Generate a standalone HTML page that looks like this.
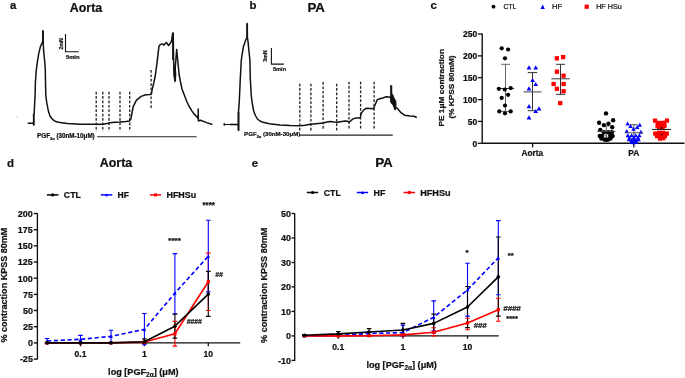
<!DOCTYPE html>
<html><head><meta charset="utf-8"><title>Figure</title>
<style>
html,body{margin:0;padding:0;background:#fff;width:685px;height:378px;overflow:hidden;}
svg{display:block;will-change:transform;}
text{font-family:"Liberation Sans",sans-serif;fill:#111;stroke:#111;stroke-width:0.22px;}
</style></head>
<body>
<svg width="685" height="378" viewBox="0 0 685 378">
<rect width="685" height="378" fill="#fff"/>
<text x="10.0" y="9.0" font-size="11.4" font-weight="bold">a</text>
<text x="69.89" y="11.90" font-size="12.3" font-weight="bold" textLength="32.33" lengthAdjust="spacingAndGlyphs">Aorta</text>
<path d="M65.5,34 V51.7 H78.7" fill="none" stroke="#111" stroke-width="1.1"/>
<text transform="translate(62.9,43.8) rotate(-90)" text-anchor="middle" font-size="5.2" font-weight="bold" fill="#222">2mN</text>
<text x="65.92" y="59.30" font-size="5.6" font-weight="bold" textLength="13.64" lengthAdjust="spacingAndGlyphs" fill="#222">5min</text>
<polyline points="27.7,123.2 33.7,123.2 33.7,125.0 33.7,114.0 34.2,113.5 34.6,104.3 35.1,95.0 35.4,82.0 36.3,70.0 37.5,61.0 38.7,53.6 40.5,46.4 42.7,41.7 42.9,30.7 43.2,41.7 43.5,48.8 44.1,56.0 44.7,61.0 45.3,70.0 45.5,82.0 45.8,95.0 46.7,102.4 48.3,110.7 49.9,115.8 52.0,118.8 54.0,120.6 56.5,121.8 60.0,122.6 67.6,123.4 80.0,124.2 95.0,124.3 103.0,124.2 107.0,123.6 111.7,122.6 120.0,122.1 126.0,121.5 129.5,121.0 130.8,119.4 131.8,114.0 133.2,106.7 136.3,100.4 141.1,96.4 145.9,94.8 150.6,94.5 151.4,94.0 152.2,89.3 153.8,82.9 155.4,75.0 157.0,62.9 159.0,46.2 160.2,44.6 162.4,43.9 164.0,45.1 166.3,42.6 168.7,45.5 170.3,43.1 171.4,41.5 172.7,33.1 173.2,33.1 173.6,60.0 174.0,75.0 175.0,81.5 175.6,75.0 175.2,68.0 175.7,62.0 175.4,66.0 176.0,58.0 176.7,49.4 177.3,56.0 178.3,66.0 179.2,75.0 180.5,82.0 182.0,89.0 184.5,95.6 186.8,101.5 189.3,106.7 191.7,110.6 194.0,113.9 197.2,117.1 198.2,119.0 198.2,109.1 198.4,121.0 200.4,120.2 206.7,122.6 212.3,124.5" fill="none" stroke="#111" stroke-width="1.5" stroke-linejoin="round"/>
<path d="M33.7,114 V125.2" stroke="#111" stroke-width="1.6"/>
<path d="M42.9,30.7 V41.7" stroke="#111" stroke-width="1.8"/>
<path d="M172.9,33.1 V60" stroke="#111" stroke-width="1.5"/>
<path d="M174.6,68 L175.3,81" stroke="#111" stroke-width="1.8"/>
<path d="M224.3,123.1 V125.7" stroke="#111" stroke-width="1.5"/><path d="M224.3,124.5 H238" stroke="#111" stroke-width="1.1"/>
<path d="M96.2,91.7 V131.5" stroke="#222" stroke-width="1.3" stroke-dasharray="2.7,1.7"/>
<path d="M102.8,91.7 V131.5" stroke="#222" stroke-width="1.3" stroke-dasharray="2.7,1.7"/>
<path d="M109,91.7 V131.5" stroke="#222" stroke-width="1.3" stroke-dasharray="2.7,1.7"/>
<path d="M120,91.7 V131.5" stroke="#222" stroke-width="1.3" stroke-dasharray="2.7,1.7"/>
<path d="M129.7,91.7 V131.5" stroke="#222" stroke-width="1.3" stroke-dasharray="2.7,1.7"/>
<path d="M151.1,70 V109.1" stroke="#222" stroke-width="1.3" stroke-dasharray="2.7,1.7"/>
<text x="37.1" y="138.2" font-size="6.28" font-weight="bold" fill="#222">PGF<tspan font-size="4" dy="1.3">2α</tspan><tspan dy="-1.3"> (30nM-10μM)</tspan></text>
<path d="M97.2,136.7 H196.6" stroke="#222" stroke-width="1.1"/>
<circle cx="17" cy="116.8" r="0.6" fill="#999"/>
<text x="249.6" y="9.3" font-size="11.4" font-weight="bold">b</text>
<text x="307.46" y="11.90" font-size="12.3" font-weight="bold" textLength="17.47" lengthAdjust="spacingAndGlyphs">PA</text>
<path d="M271.4,47.9 V64.1 H283.8" fill="none" stroke="#111" stroke-width="1.1"/>
<text transform="translate(267.4,56.1) rotate(-90)" text-anchor="middle" font-size="5.2" font-weight="bold" fill="#222">3mN</text>
<text x="272.93" y="70.90" font-size="5.6" font-weight="bold" textLength="13.23" lengthAdjust="spacingAndGlyphs" fill="#222">5min</text>
<polyline points="230.0,124.6 238.5,124.6 238.5,130.4 238.5,111.9 239.2,102.6 239.8,90.0 240.3,78.8 241.3,60.0 243.3,47.1 245.7,40.0 247.1,37.0 247.2,23.6 247.4,37.0 248.1,42.4 248.9,50.7 249.9,60.0 250.3,78.8 251.3,96.0 252.5,105.0 253.8,111.5 255.4,115.5 257.4,119.0 260.0,121.0 262.1,122.0 269.3,123.8 280.0,125.0 290.0,125.6 300.0,125.8 305.0,125.3 310.4,124.2 316.0,123.7 323.1,123.0 327.0,122.0 330.2,121.5 334.0,122.0 337.4,122.3 345.0,121.0 347.9,121.3 349.0,122.3 352.7,119.1 355.9,117.9 360.2,117.9 361.4,113.1 363.8,109.9 366.2,108.3 373.3,108.8 374.9,105.2 377.3,99.6 379.7,98.8 382.0,98.3 385.0,97.1 386.5,96.8 390.5,97.2" fill="none" stroke="#111" stroke-width="1.5" stroke-linejoin="round"/>
<path d="M238.5,111.9 V130.4" stroke="#111" stroke-width="1.7"/>
<path d="M247.2,23.6 V37" stroke="#111" stroke-width="1.7"/>
<path d="M391.2,85.2 V102" stroke="#111" stroke-width="2.1"/><polygon points="390.4,97 392.8,93.5 394,97 395.3,99.5 396.3,101 396.5,106 395.9,110 394.2,110 393.4,107 392.2,104.5 390.6,103" fill="#111"/>
<polyline points="394.6,108.5 396.0,107.5 397.5,108.5 400.6,112.3 404.6,115.2 410.2,116.0 414.1,116.3 416.8,117.5" fill="none" stroke="#111" stroke-width="1.5" stroke-linejoin="round"/>
<path d="M299.8,83.7 V130.6" stroke="#222" stroke-width="1.3" stroke-dasharray="2.7,1.7"/>
<path d="M310.9,83.7 V130.6" stroke="#222" stroke-width="1.3" stroke-dasharray="2.7,1.7"/>
<path d="M323.1,82.1 V130.6" stroke="#222" stroke-width="1.3" stroke-dasharray="2.7,1.7"/>
<path d="M336.7,83.7 V130.6" stroke="#222" stroke-width="1.3" stroke-dasharray="2.7,1.7"/>
<path d="M349,81.7 V128.4" stroke="#222" stroke-width="1.3" stroke-dasharray="2.7,1.7"/>
<path d="M360.6,81.7 V128.4" stroke="#222" stroke-width="1.3" stroke-dasharray="2.7,1.7"/>
<path d="M374.1,81.7 V128.4" stroke="#222" stroke-width="1.3" stroke-dasharray="2.7,1.7"/>
<text x="244.1" y="136.3" font-size="6.1" font-weight="bold" fill="#222">PGF<tspan font-size="4" dy="1.3">2α</tspan><tspan dy="-1.3"> (30nM-30μM)</tspan></text>
<path d="M299.3,135.1 H392.7" stroke="#222" stroke-width="1.2"/>
<text x="430.5" y="9.0" font-size="11.4" font-weight="bold">c</text>
<circle cx="493.5" cy="6.7" r="1.9" fill="#000"/>
<text x="503.45" y="9.00" font-size="6.8" textLength="12.98" lengthAdjust="spacingAndGlyphs" fill="#111">CTL</text>
<polygon points="540.5,8.9 544.9,8.9 542.7,4.6" fill="#00f"/>
<text x="551.97" y="9.00" font-size="6.8" textLength="10.24" lengthAdjust="spacingAndGlyphs" fill="#111">HF</text>
<rect x="584.6" y="4.6" width="4.2" height="4.2" fill="#f00"/>
<text x="596.21" y="9.00" font-size="6.8" textLength="25.46" lengthAdjust="spacingAndGlyphs" fill="#111">HF HSu</text>
<path d="M482.2,33.5 V143.3 H684.5" fill="none" stroke="#111" stroke-width="1.4"/>
<path d="M477.8,143.3 H482.2" stroke="#111" stroke-width="1.3"/>
<text x="477.2" y="146.5" font-size="8.5" font-weight="bold" text-anchor="end">0</text>
<path d="M477.8,121.4 H482.2" stroke="#111" stroke-width="1.3"/>
<text x="477.2" y="124.6" font-size="8.5" font-weight="bold" text-anchor="end">50</text>
<path d="M477.8,99.6 H482.2" stroke="#111" stroke-width="1.3"/>
<text x="477.2" y="102.8" font-size="8.5" font-weight="bold" text-anchor="end">100</text>
<path d="M477.8,77.7 H482.2" stroke="#111" stroke-width="1.3"/>
<text x="477.2" y="80.9" font-size="8.5" font-weight="bold" text-anchor="end">150</text>
<path d="M477.8,55.9 H482.2" stroke="#111" stroke-width="1.3"/>
<text x="477.2" y="59.1" font-size="8.5" font-weight="bold" text-anchor="end">200</text>
<path d="M477.8,34.0 H482.2" stroke="#111" stroke-width="1.3"/>
<text x="477.2" y="37.2" font-size="8.5" font-weight="bold" text-anchor="end">250</text>
<path d="M532.6,143.3 V147.4 M633.8,143.3 V147.4" stroke="#111" stroke-width="1.3"/>
<text x="521.49" y="155.70" font-size="8.2" font-weight="bold" textLength="21.55" lengthAdjust="spacingAndGlyphs">Aorta</text>
<text x="628.37" y="155.70" font-size="8.2" font-weight="bold" textLength="11.04" lengthAdjust="spacingAndGlyphs">PA</text>
<text transform="translate(443.60,126.56) rotate(-90)" font-size="8.0" font-weight="bold" textLength="77.57" lengthAdjust="spacingAndGlyphs">PE 1μM contraction</text>
<text transform="translate(453.90,118.61) rotate(-90)" font-size="8.0" font-weight="bold" textLength="63.22" lengthAdjust="spacingAndGlyphs">(% KPSS 80mM)</text>
<path d="M505.5,64.3 V111.4 M501.0,64.3 H510.0 M501.0,111.4 H510.0" stroke="#666" stroke-width="1.0" fill="none"/>
<path d="M496.9,88.5 H514.1" stroke="#333" stroke-width="1.0"/>
<circle cx="501.7" cy="48.3" r="2.1" fill="#000"/>
<circle cx="508.1" cy="49.5" r="2.1" fill="#000"/>
<circle cx="505.0" cy="58.3" r="2.1" fill="#000"/>
<circle cx="498.8" cy="88.8" r="2.1" fill="#000"/>
<circle cx="504.8" cy="89.5" r="2.1" fill="#000"/>
<circle cx="510.7" cy="88.1" r="2.1" fill="#000"/>
<circle cx="501.7" cy="97.9" r="2.1" fill="#000"/>
<circle cx="508.1" cy="94.8" r="2.1" fill="#000"/>
<circle cx="505.0" cy="105.5" r="2.1" fill="#000"/>
<circle cx="499.3" cy="111.4" r="2.1" fill="#000"/>
<circle cx="505.0" cy="113.3" r="2.1" fill="#000"/>
<circle cx="510.7" cy="111.4" r="2.1" fill="#000"/>
<path d="M532.5,72.6 V110.7 M527.75,72.6 H537.25 M527.75,110.7 H537.25" stroke="#333" stroke-width="1.0" fill="none"/>
<path d="M523.5,91.9 H541.5" stroke="#444" stroke-width="1.0"/>
<polygon points="526.6,69.5 531.4,69.5 529.0,65.3" fill="#00f"/>
<polygon points="533.4,69.5 538.1,69.5 535.7,65.3" fill="#00f"/>
<polygon points="530.2,82.1 535.0,82.1 532.6,77.9" fill="#00f"/>
<polygon points="533.4,86.1 538.1,86.1 535.7,81.9" fill="#00f"/>
<polygon points="526.6,90.4 531.4,90.4 529.0,86.2" fill="#00f"/>
<polygon points="526.6,108.3 531.4,108.3 529.0,104.1" fill="#00f"/>
<polygon points="536.6,110.4 541.4,110.4 539.0,106.2" fill="#00f"/>
<polygon points="533.4,113.1 538.1,113.1 535.7,108.9" fill="#00f"/>
<polygon points="526.6,119.5 531.4,119.5 529.0,115.3" fill="#00f"/>
<path d="M560.5,64.3 V94.3 M555.95,64.3 H565.05 M555.95,94.3 H565.05" stroke="#333" stroke-width="1.0" fill="none"/>
<path d="M551.35,78.8 H569.65" stroke="#333" stroke-width="1.0"/>
<rect x="554.75" y="56.15" width="4.3" height="4.3" fill="#f00"/>
<rect x="560.95" y="54.95" width="4.3" height="4.3" fill="#f00"/>
<rect x="554.75" y="69.55" width="4.3" height="4.3" fill="#f00"/>
<rect x="561.45" y="73.55" width="4.3" height="4.3" fill="#f00"/>
<rect x="551.45" y="81.85" width="4.3" height="4.3" fill="#f00"/>
<rect x="561.45" y="81.85" width="4.3" height="4.3" fill="#f00"/>
<rect x="554.75" y="86.65" width="4.3" height="4.3" fill="#f00"/>
<rect x="561.45" y="89.05" width="4.3" height="4.3" fill="#f00"/>
<rect x="558.05" y="100.95" width="4.3" height="4.3" fill="#f00"/>
<path d="M606.3,126 V140 M603.3,126 H609.3" stroke="#666" stroke-width="1.0" fill="none"/>
<circle cx="606.0" cy="113.4" r="2.2" fill="#000"/>
<circle cx="613.1" cy="120.3" r="2.2" fill="#000"/>
<circle cx="599.1" cy="122.7" r="2.2" fill="#000"/>
<circle cx="603.9" cy="125.1" r="2.2" fill="#000"/>
<circle cx="608.5" cy="123.8" r="2.2" fill="#000"/>
<circle cx="612.2" cy="127.2" r="2.2" fill="#000"/>
<circle cx="600.3" cy="130.0" r="2.2" fill="#000"/>
<circle cx="604.0" cy="132.2" r="2.2" fill="#000"/>
<circle cx="608.3" cy="132.2" r="2.2" fill="#000"/>
<circle cx="611.8" cy="132.3" r="2.2" fill="#000"/>
<circle cx="599.8" cy="136.0" r="2.2" fill="#000"/>
<circle cx="602.2" cy="135.8" r="2.2" fill="#000"/>
<circle cx="610.2" cy="135.8" r="2.2" fill="#000"/>
<circle cx="612.6" cy="136.0" r="2.2" fill="#000"/>
<circle cx="601.4" cy="138.6" r="2.2" fill="#000"/>
<circle cx="604.5" cy="139.5" r="2.2" fill="#000"/>
<circle cx="608.1" cy="139.5" r="2.2" fill="#000"/>
<circle cx="610.5" cy="138.6" r="2.2" fill="#000"/>
<circle cx="606.2" cy="139.8" r="2.2" fill="#000"/>
<ellipse cx="606.1" cy="136.2" rx="1.9" ry="1.2" fill="#fff"/>
<path d="M606.2,134.8 V137.6" stroke="#000" stroke-width="1"/>
<path d="M597.25,131.4 H615.3499999999999" stroke="#444" stroke-width="1.0"/>
<path d="M633.9,124.7 V141 M630.0,124.7 H637.8" stroke="#555" stroke-width="1.0" fill="none"/>
<polygon points="625.4,125.6 629.9,125.6 627.6,121.6" fill="#00f"/>
<polygon points="637.5,126.7 642.0,126.7 639.8,122.7" fill="#00f"/>
<polygon points="628.2,128.1 632.8,128.1 630.5,124.1" fill="#00f"/>
<polygon points="635.0,128.9 639.5,128.9 637.2,124.9" fill="#00f"/>
<polygon points="631.2,130.7 635.8,130.7 633.5,126.7" fill="#00f"/>
<polygon points="624.5,133.0 629.0,133.0 626.8,129.0" fill="#00f"/>
<polygon points="638.6,133.7 643.1,133.7 640.9,129.7" fill="#00f"/>
<polygon points="625.6,137.3 630.1,137.3 627.9,133.3" fill="#00f"/>
<polygon points="629.4,137.3 633.9,137.3 631.6,133.3" fill="#00f"/>
<polygon points="633.5,137.3 638.0,137.3 635.7,133.3" fill="#00f"/>
<polygon points="637.1,137.3 641.6,137.3 639.4,133.3" fill="#00f"/>
<polygon points="627.2,139.6 631.8,139.6 629.5,135.6" fill="#00f"/>
<polygon points="631.6,139.6 636.1,139.6 633.9,135.6" fill="#00f"/>
<polygon points="635.8,139.6 640.2,139.6 638.0,135.6" fill="#00f"/>
<polygon points="626.8,141.3 631.2,141.3 629.0,137.3" fill="#00f"/>
<polygon points="636.2,141.3 640.8,141.3 638.5,137.3" fill="#00f"/>
<polygon points="629.5,142.0 634.0,142.0 631.8,138.0" fill="#00f"/>
<polygon points="633.8,142.0 638.2,142.0 636.0,138.0" fill="#00f"/>
<polygon points="631.6,141.8 636.1,141.8 633.9,137.8" fill="#00f"/>
<polygon points="629.4,144.0 633.9,144.0 631.6,140.0" fill="#00f"/>
<polygon points="634.0,144.0 638.5,144.0 636.2,140.0" fill="#00f"/>
<polygon points="631.6,144.3 636.1,144.3 633.9,140.3" fill="#00f"/>
<path d="M624.85,132.8 H642.9499999999999" stroke="#555" stroke-width="1.0"/>
<rect x="652.90" y="118.50" width="4.2" height="4.2" fill="#f00"/>
<rect x="664.90" y="118.50" width="4.2" height="4.2" fill="#f00"/>
<rect x="655.70" y="120.70" width="4.2" height="4.2" fill="#f00"/>
<rect x="662.10" y="120.70" width="4.2" height="4.2" fill="#f00"/>
<rect x="658.90" y="120.90" width="4.2" height="4.2" fill="#f00"/>
<rect x="655.40" y="123.70" width="4.2" height="4.2" fill="#f00"/>
<rect x="658.90" y="122.70" width="4.2" height="4.2" fill="#f00"/>
<rect x="662.40" y="123.70" width="4.2" height="4.2" fill="#f00"/>
<rect x="656.90" y="125.30" width="4.2" height="4.2" fill="#f00"/>
<rect x="660.40" y="125.30" width="4.2" height="4.2" fill="#f00"/>
<rect x="653.10" y="131.50" width="4.2" height="4.2" fill="#f00"/>
<rect x="656.90" y="130.70" width="4.2" height="4.2" fill="#f00"/>
<rect x="660.90" y="130.70" width="4.2" height="4.2" fill="#f00"/>
<rect x="664.70" y="131.50" width="4.2" height="4.2" fill="#f00"/>
<rect x="654.90" y="134.10" width="4.2" height="4.2" fill="#f00"/>
<rect x="658.90" y="133.50" width="4.2" height="4.2" fill="#f00"/>
<rect x="662.90" y="134.10" width="4.2" height="4.2" fill="#f00"/>
<rect x="657.90" y="136.50" width="4.2" height="4.2" fill="#f00"/>
<rect x="661.20" y="136.10" width="4.2" height="4.2" fill="#f00"/>
<path d="M661.6,127 V129.4" stroke="#000" stroke-width="1"/>
<path d="M660.8,134.6 H662.6" stroke="#000" stroke-width="1.1"/>
<path d="M652.05,129.4 H670.95" stroke="#111" stroke-width="1.0"/>
<text x="6.9" y="166.5" font-size="11.4" font-weight="bold">d</text>
<text x="99.69" y="166.50" font-size="12.3" font-weight="bold" textLength="32.53" lengthAdjust="spacingAndGlyphs">Aorta</text>
<path d="M46.9,194.9 H58.5" stroke="#000" stroke-width="1.5"/><circle cx="52.7" cy="194.9" r="1.6" fill="#000"/>
<text x="63.84" y="197.90" font-size="8.6" font-weight="bold" textLength="17.03" lengthAdjust="spacingAndGlyphs">CTL</text>
<path d="M100.8,194.9 H112.3" stroke="#00f" stroke-width="1.5"/><polygon points="105.0,196.3 108.1,196.3 106.5,193.5" fill="#00f"/>
<text x="117.53" y="197.90" font-size="8.6" font-weight="bold" textLength="11.38" lengthAdjust="spacingAndGlyphs">HF</text>
<path d="M149.9,194.9 H161" stroke="#f00" stroke-width="1.5"/><rect x="153.95" y="193.40" width="3.0" height="3.0" fill="#f00"/>
<text x="166.50" y="197.90" font-size="8.6" font-weight="bold" textLength="29.68" lengthAdjust="spacingAndGlyphs">HFHSu</text>
<path d="M37.4,213.2 V359.4" stroke="#111" stroke-width="1.35"/>
<path d="M33.8,213.5 H37.4" stroke="#111" stroke-width="1.4"/>
<text x="32.9" y="216.8" font-size="9" font-weight="bold" text-anchor="end">200</text>
<path d="M33.8,229.7 H37.4" stroke="#111" stroke-width="1.4"/>
<text x="32.9" y="233.0" font-size="9" font-weight="bold" text-anchor="end">175</text>
<path d="M33.8,245.8 H37.4" stroke="#111" stroke-width="1.4"/>
<text x="32.9" y="249.2" font-size="9" font-weight="bold" text-anchor="end">150</text>
<path d="M33.8,262.0 H37.4" stroke="#111" stroke-width="1.4"/>
<text x="32.9" y="265.3" font-size="9" font-weight="bold" text-anchor="end">125</text>
<path d="M33.8,278.2 H37.4" stroke="#111" stroke-width="1.4"/>
<text x="32.9" y="281.5" font-size="9" font-weight="bold" text-anchor="end">100</text>
<path d="M33.8,294.4 H37.4" stroke="#111" stroke-width="1.4"/>
<text x="32.9" y="297.7" font-size="9" font-weight="bold" text-anchor="end">75</text>
<path d="M33.8,310.5 H37.4" stroke="#111" stroke-width="1.4"/>
<text x="32.9" y="313.8" font-size="9" font-weight="bold" text-anchor="end">50</text>
<path d="M33.8,326.7 H37.4" stroke="#111" stroke-width="1.4"/>
<text x="32.9" y="330.0" font-size="9" font-weight="bold" text-anchor="end">25</text>
<path d="M33.8,342.9 H37.4" stroke="#111" stroke-width="1.4"/>
<text x="32.9" y="346.2" font-size="9" font-weight="bold" text-anchor="end">0</text>
<path d="M33.8,359.1 H37.4" stroke="#111" stroke-width="1.4"/>
<text x="32.9" y="362.4" font-size="9" font-weight="bold" text-anchor="end">-25</text>
<path d="M46,342.9 H240.2" stroke="#111" stroke-width="1.4"/>
<path d="M80.5,342.9 V346.3" stroke="#111" stroke-width="1.3"/>
<text x="80.5" y="357" font-size="8.6" font-weight="bold" text-anchor="middle">0.1</text>
<path d="M144.4,342.9 V346.3" stroke="#111" stroke-width="1.3"/>
<text x="144.4" y="357" font-size="8.6" font-weight="bold" text-anchor="middle">1</text>
<path d="M208.3,342.9 V346.3" stroke="#111" stroke-width="1.3"/>
<text x="208.3" y="357" font-size="8.6" font-weight="bold" text-anchor="middle">10</text>
<text transform="translate(7.30,342.52) rotate(-90)" font-size="9.0" font-weight="bold" textLength="114.83" lengthAdjust="spacingAndGlyphs">% contraction KPSS 80mM</text>
<text x="108.1" y="375.4" font-size="9.15" font-weight="bold">log [PGF<tspan font-size="6.5" dy="1.7">2α</tspan><tspan dy="-1.7">] (μM)</tspan></text>
<path d="M47.1,342.9 V342.9" stroke="#f00" stroke-width="1.1"/><path d="M80.5,342.9 V342.9" stroke="#f00" stroke-width="1.1"/><path d="M111.0,342.9 V342.9" stroke="#f00" stroke-width="1.1"/><path d="M144.4,342.3 V342.9" stroke="#f00" stroke-width="1.1"/><path d="M174.9,321.4 V346.1" stroke="#f00" stroke-width="1.1"/><path d="M208.3,253.1 V310.5" stroke="#f00" stroke-width="1.1"/>
<path d="M47.1,338.5 V342.9" stroke="#00f" stroke-width="1.1"/><path d="M80.5,335.4 V342.3" stroke="#00f" stroke-width="1.1"/><path d="M111.0,330.3 V342.3" stroke="#00f" stroke-width="1.1"/><path d="M144.4,313.5 V344.8" stroke="#00f" stroke-width="1.1"/><path d="M174.9,253.6 V313.8" stroke="#00f" stroke-width="1.1"/><path d="M208.3,220.3 V291.8" stroke="#00f" stroke-width="1.1"/>
<path d="M47.1,342.9 V342.9" stroke="#000" stroke-width="1.1"/><path d="M80.5,342.9 V342.9" stroke="#000" stroke-width="1.1"/><path d="M111.0,342.9 V342.9" stroke="#000" stroke-width="1.1"/><path d="M144.4,338.9 V343.5" stroke="#000" stroke-width="1.1"/><path d="M174.9,314.3 V338.1" stroke="#000" stroke-width="1.1"/><path d="M208.3,271.4 V316.4" stroke="#000" stroke-width="1.1"/>
<path d="M44.8,342.9 H49.4 M44.8,342.9 H49.4" stroke="#f00" stroke-width="1.1"/><path d="M78.2,342.9 H82.8 M78.2,342.9 H82.8" stroke="#f00" stroke-width="1.1"/><path d="M108.7,342.9 H113.3 M108.7,342.9 H113.3" stroke="#f00" stroke-width="1.1"/><path d="M142.1,342.3 H146.7 M142.1,342.9 H146.7" stroke="#f00" stroke-width="1.1"/><path d="M172.6,321.4 H177.2 M172.6,346.1 H177.2" stroke="#f00" stroke-width="1.1"/><path d="M206.0,253.1 H210.6 M206.0,310.5 H210.6" stroke="#f00" stroke-width="1.1"/>
<path d="M44.8,338.5 H49.4 M44.8,342.9 H49.4" stroke="#00f" stroke-width="1.1"/><path d="M78.2,335.4 H82.8 M78.2,342.3 H82.8" stroke="#00f" stroke-width="1.1"/><path d="M108.7,330.3 H113.3 M108.7,342.3 H113.3" stroke="#00f" stroke-width="1.1"/><path d="M142.1,313.5 H146.7 M142.1,344.8 H146.7" stroke="#00f" stroke-width="1.1"/><path d="M172.6,253.6 H177.2 M172.6,313.8 H177.2" stroke="#00f" stroke-width="1.1"/><path d="M206.0,220.3 H210.6 M206.0,291.8 H210.6" stroke="#00f" stroke-width="1.1"/>
<path d="M44.8,342.9 H49.4 M44.8,342.9 H49.4" stroke="#000" stroke-width="1.1"/><path d="M78.2,342.9 H82.8 M78.2,342.9 H82.8" stroke="#000" stroke-width="1.1"/><path d="M108.7,342.9 H113.3 M108.7,342.9 H113.3" stroke="#000" stroke-width="1.1"/><path d="M142.1,338.9 H146.7 M142.1,343.5 H146.7" stroke="#000" stroke-width="1.1"/><path d="M172.6,314.3 H177.2 M172.6,338.1 H177.2" stroke="#000" stroke-width="1.1"/><path d="M206.0,271.4 H210.6 M206.0,316.4 H210.6" stroke="#000" stroke-width="1.1"/>
<polyline points="47.1,341.0 80.5,339.3 111.0,336.4 144.4,329.3 174.9,293.1 208.3,256.2" fill="none" stroke="#00f" stroke-width="1.6" stroke-dasharray="4.2,2.6" stroke-linejoin="round"/>
<polygon points="45.3,342.6 48.9,342.6 47.1,339.3" fill="#00f"/><polygon points="78.7,340.9 82.3,340.9 80.5,337.7" fill="#00f"/><polygon points="109.2,338.0 112.8,338.0 111.0,334.8" fill="#00f"/><polygon points="142.6,330.9 146.2,330.9 144.4,327.7" fill="#00f"/><polygon points="173.1,294.7 176.7,294.7 174.9,291.5" fill="#00f"/><polygon points="206.5,257.8 210.1,257.8 208.3,254.6" fill="#00f"/>
<polyline points="47.1,342.9 80.5,342.9 111.0,342.9 144.4,342.1 174.9,333.8 208.3,281.8" fill="none" stroke="#f00" stroke-width="1.6" stroke-linejoin="round"/>
<rect x="45.44" y="341.25" width="3.3" height="3.3" fill="#f00"/><rect x="78.85" y="341.25" width="3.3" height="3.3" fill="#f00"/><rect x="109.34" y="341.25" width="3.3" height="3.3" fill="#f00"/><rect x="142.75" y="340.47" width="3.3" height="3.3" fill="#f00"/><rect x="173.24" y="332.19" width="3.3" height="3.3" fill="#f00"/><rect x="206.65" y="280.11" width="3.3" height="3.3" fill="#f00"/>
<polyline points="47.1,342.9 80.5,342.9 111.0,342.9 144.4,341.8 174.9,326.2 208.3,294.1" fill="none" stroke="#000" stroke-width="1.6" stroke-linejoin="round"/>
<circle cx="47.1" cy="342.9" r="1.8" fill="#000"/><circle cx="80.5" cy="342.9" r="1.8" fill="#000"/><circle cx="111.0" cy="342.9" r="1.8" fill="#000"/><circle cx="144.4" cy="341.8" r="1.8" fill="#000"/><circle cx="174.9" cy="326.2" r="1.8" fill="#000"/><circle cx="208.3" cy="294.1" r="1.8" fill="#000"/>
<text x="202.48" y="207.50" font-size="8.87" font-weight="bold" textLength="12.53" lengthAdjust="spacingAndGlyphs">****</text>
<text x="168.28" y="242.92" font-size="7.0" font-weight="bold" textLength="12.53" lengthAdjust="spacingAndGlyphs">****</text>
<text x="215.18" y="276.60" font-size="7.49" font-weight="bold" textLength="7.63" lengthAdjust="spacingAndGlyphs" font-style="italic">##</text>
<text x="186.78" y="323.70" font-size="7.05" font-weight="bold" textLength="15.02" lengthAdjust="spacingAndGlyphs" font-style="italic">####</text>
<text x="251.8" y="166.5" font-size="11.4" font-weight="bold">e</text>
<text x="375.15" y="166.50" font-size="12.3" font-weight="bold" textLength="17.69" lengthAdjust="spacingAndGlyphs">PA</text>
<path d="M306.8,192.5 H318.1" stroke="#000" stroke-width="1.5"/><circle cx="312.5" cy="192.5" r="1.6" fill="#000"/>
<text x="323.74" y="195.50" font-size="8.6" font-weight="bold" textLength="17.03" lengthAdjust="spacingAndGlyphs">CTL</text>
<path d="M356.8,192.5 H368.1" stroke="#00f" stroke-width="1.5"/><polygon points="360.9,193.9 364.1,193.9 362.5,191.1" fill="#00f"/>
<text x="373.51" y="195.50" font-size="8.6" font-weight="bold" textLength="11.82" lengthAdjust="spacingAndGlyphs">HF</text>
<path d="M403.5,192.5 H415" stroke="#f00" stroke-width="1.5"/><rect x="407.75" y="191.00" width="3.0" height="3.0" fill="#f00"/>
<text x="420.19" y="195.50" font-size="8.6" font-weight="bold" textLength="30.41" lengthAdjust="spacingAndGlyphs">HFHSu</text>
<path d="M294.7,213.2 V361" stroke="#111" stroke-width="1.35"/>
<path d="M291.6,213.5 H294.7" stroke="#111" stroke-width="1.4"/>
<text x="291.0" y="216.8" font-size="9" font-weight="bold" text-anchor="end">50</text>
<path d="M291.6,238.0 H294.7" stroke="#111" stroke-width="1.4"/>
<text x="291.0" y="241.3" font-size="9" font-weight="bold" text-anchor="end">40</text>
<path d="M291.6,262.5 H294.7" stroke="#111" stroke-width="1.4"/>
<text x="291.0" y="265.8" font-size="9" font-weight="bold" text-anchor="end">30</text>
<path d="M291.6,286.9 H294.7" stroke="#111" stroke-width="1.4"/>
<text x="291.0" y="290.2" font-size="9" font-weight="bold" text-anchor="end">20</text>
<path d="M291.6,311.4 H294.7" stroke="#111" stroke-width="1.4"/>
<text x="291.0" y="314.7" font-size="9" font-weight="bold" text-anchor="end">10</text>
<path d="M291.6,335.9 H294.7" stroke="#111" stroke-width="1.4"/>
<text x="291.0" y="339.2" font-size="9" font-weight="bold" text-anchor="end">0</text>
<path d="M291.6,360.4 H294.7" stroke="#111" stroke-width="1.4"/>
<text x="291.0" y="363.7" font-size="9" font-weight="bold" text-anchor="end">-10</text>
<path d="M303.5,335.9 H498.8" stroke="#111" stroke-width="1.4"/>
<path d="M338.3,335.9 V338.8" stroke="#111" stroke-width="1.3"/>
<text x="338.3" y="350" font-size="8.6" font-weight="bold" text-anchor="middle">0.1</text>
<path d="M402.9,335.9 V338.8" stroke="#111" stroke-width="1.3"/>
<text x="402.9" y="350" font-size="8.6" font-weight="bold" text-anchor="middle">1</text>
<path d="M467.5,335.9 V338.8" stroke="#111" stroke-width="1.3"/>
<text x="467.5" y="350" font-size="8.6" font-weight="bold" text-anchor="middle">10</text>
<text transform="translate(266.70,342.93) rotate(-90)" font-size="9.0" font-weight="bold" textLength="115.23" lengthAdjust="spacingAndGlyphs">% contraction KPSS 80mM</text>
<text x="366.4" y="368.4" font-size="9.15" font-weight="bold">log [PGF<tspan font-size="6.5" dy="1.7">2α</tspan><tspan dy="-1.7">] (μM)</tspan></text>
<path d="M304.5,335.9 V335.9" stroke="#f00" stroke-width="1.1"/><path d="M338.3,335.9 V335.9" stroke="#f00" stroke-width="1.1"/><path d="M369.1,335.9 V335.9" stroke="#f00" stroke-width="1.1"/><path d="M402.9,334.4 V335.9" stroke="#f00" stroke-width="1.1"/><path d="M433.7,327.8 V335.9" stroke="#f00" stroke-width="1.1"/><path d="M467.5,318.3 V329.8" stroke="#f00" stroke-width="1.1"/><path d="M498.3,298.2 V321.2" stroke="#f00" stroke-width="1.1"/>
<path d="M304.5,334.9 V335.9" stroke="#00f" stroke-width="1.1"/><path d="M338.3,333.9 V335.9" stroke="#00f" stroke-width="1.1"/><path d="M369.1,332.0 V335.4" stroke="#00f" stroke-width="1.1"/><path d="M402.9,325.1 V335.9" stroke="#00f" stroke-width="1.1"/><path d="M433.7,300.9 V330.8" stroke="#00f" stroke-width="1.1"/><path d="M467.5,263.2 V316.1" stroke="#00f" stroke-width="1.1"/><path d="M498.3,220.6 V294.8" stroke="#00f" stroke-width="1.1"/>
<path d="M304.5,334.7 V335.9" stroke="#000" stroke-width="1.1"/><path d="M338.3,331.5 V335.2" stroke="#000" stroke-width="1.1"/><path d="M369.1,328.6 V335.9" stroke="#000" stroke-width="1.1"/><path d="M402.9,323.4 V333.0" stroke="#000" stroke-width="1.1"/><path d="M433.7,314.1 V333.0" stroke="#000" stroke-width="1.1"/><path d="M467.5,286.5 V327.6" stroke="#000" stroke-width="1.1"/><path d="M498.3,237.0 V316.1" stroke="#000" stroke-width="1.1"/>
<path d="M302.2,335.9 H306.8 M302.2,335.9 H306.8" stroke="#f00" stroke-width="1.1"/><path d="M336.0,335.9 H340.6 M336.0,335.9 H340.6" stroke="#f00" stroke-width="1.1"/><path d="M366.8,335.9 H371.4 M366.8,335.9 H371.4" stroke="#f00" stroke-width="1.1"/><path d="M400.6,334.4 H405.2 M400.6,335.9 H405.2" stroke="#f00" stroke-width="1.1"/><path d="M431.4,327.8 H436.0 M431.4,335.9 H436.0" stroke="#f00" stroke-width="1.1"/><path d="M465.2,318.3 H469.8 M465.2,329.8 H469.8" stroke="#f00" stroke-width="1.1"/><path d="M496.0,298.2 H500.6 M496.0,321.2 H500.6" stroke="#f00" stroke-width="1.1"/>
<path d="M302.2,334.9 H306.8 M302.2,335.9 H306.8" stroke="#00f" stroke-width="1.1"/><path d="M336.0,333.9 H340.6 M336.0,335.9 H340.6" stroke="#00f" stroke-width="1.1"/><path d="M366.8,332.0 H371.4 M366.8,335.4 H371.4" stroke="#00f" stroke-width="1.1"/><path d="M400.6,325.1 H405.2 M400.6,335.9 H405.2" stroke="#00f" stroke-width="1.1"/><path d="M431.4,300.9 H436.0 M431.4,330.8 H436.0" stroke="#00f" stroke-width="1.1"/><path d="M465.2,263.2 H469.8 M465.2,316.1 H469.8" stroke="#00f" stroke-width="1.1"/><path d="M496.0,220.6 H500.6 M496.0,294.8 H500.6" stroke="#00f" stroke-width="1.1"/>
<path d="M302.2,334.7 H306.8 M302.2,335.9 H306.8" stroke="#000" stroke-width="1.1"/><path d="M336.0,331.5 H340.6 M336.0,335.2 H340.6" stroke="#000" stroke-width="1.1"/><path d="M366.8,328.6 H371.4 M366.8,335.9 H371.4" stroke="#000" stroke-width="1.1"/><path d="M400.6,323.4 H405.2 M400.6,333.0 H405.2" stroke="#000" stroke-width="1.1"/><path d="M431.4,314.1 H436.0 M431.4,333.0 H436.0" stroke="#000" stroke-width="1.1"/><path d="M465.2,286.5 H469.8 M465.2,327.6 H469.8" stroke="#000" stroke-width="1.1"/><path d="M496.0,237.0 H500.6 M496.0,316.1 H500.6" stroke="#000" stroke-width="1.1"/>
<polyline points="304.5,335.9 338.3,335.4 369.1,333.5 402.9,332.6 433.7,317.3 467.5,289.9 498.3,257.8" fill="none" stroke="#00f" stroke-width="1.6" stroke-dasharray="4.2,2.6" stroke-linejoin="round"/>
<polygon points="302.7,337.5 306.3,337.5 304.5,334.3" fill="#00f"/><polygon points="336.5,337.0 340.1,337.0 338.3,333.8" fill="#00f"/><polygon points="367.3,335.1 370.9,335.1 369.1,331.8" fill="#00f"/><polygon points="401.1,334.2 404.7,334.2 402.9,331.0" fill="#00f"/><polygon points="431.9,318.9 435.5,318.9 433.7,315.7" fill="#00f"/><polygon points="465.7,291.5 469.3,291.5 467.5,288.3" fill="#00f"/><polygon points="496.5,259.4 500.1,259.4 498.3,256.2" fill="#00f"/>
<polyline points="304.5,335.9 338.3,335.9 369.1,335.7 402.9,334.9 433.7,332.2 467.5,322.9 498.3,309.7" fill="none" stroke="#f00" stroke-width="1.6" stroke-linejoin="round"/>
<rect x="302.87" y="334.25" width="3.3" height="3.3" fill="#f00"/><rect x="336.65" y="334.25" width="3.3" height="3.3" fill="#f00"/><rect x="367.47" y="334.01" width="3.3" height="3.3" fill="#f00"/><rect x="401.25" y="333.27" width="3.3" height="3.3" fill="#f00"/><rect x="432.07" y="330.58" width="3.3" height="3.3" fill="#f00"/><rect x="465.85" y="321.28" width="3.3" height="3.3" fill="#f00"/><rect x="496.67" y="308.06" width="3.3" height="3.3" fill="#f00"/>
<polyline points="304.5,335.2 338.3,333.9 369.1,332.0 402.9,330.0 433.7,323.4 467.5,307.0 498.3,276.9" fill="none" stroke="#000" stroke-width="1.6" stroke-linejoin="round"/>
<circle cx="304.5" cy="335.2" r="1.8" fill="#000"/><circle cx="338.3" cy="333.9" r="1.8" fill="#000"/><circle cx="369.1" cy="332.0" r="1.8" fill="#000"/><circle cx="402.9" cy="330.0" r="1.8" fill="#000"/><circle cx="433.7" cy="323.4" r="1.8" fill="#000"/><circle cx="467.5" cy="307.0" r="1.8" fill="#000"/><circle cx="498.3" cy="276.9" r="1.8" fill="#000"/>
<text x="465.48" y="255.32" font-size="7.0" font-weight="bold" textLength="3.13" lengthAdjust="spacingAndGlyphs">*</text>
<text x="507.88" y="257.82" font-size="7.0" font-weight="bold" textLength="5.83" lengthAdjust="spacingAndGlyphs">**</text>
<text x="473.67" y="328.40" font-size="7.64" font-weight="bold" textLength="12.96" lengthAdjust="spacingAndGlyphs" font-style="italic">###</text>
<text x="503.27" y="310.50" font-size="7.49" font-weight="bold" textLength="17.46" lengthAdjust="spacingAndGlyphs" font-style="italic">####</text>
<text x="506.28" y="320.52" font-size="7.0" font-weight="bold" textLength="11.53" lengthAdjust="spacingAndGlyphs">****</text>
</svg>
</body></html>
